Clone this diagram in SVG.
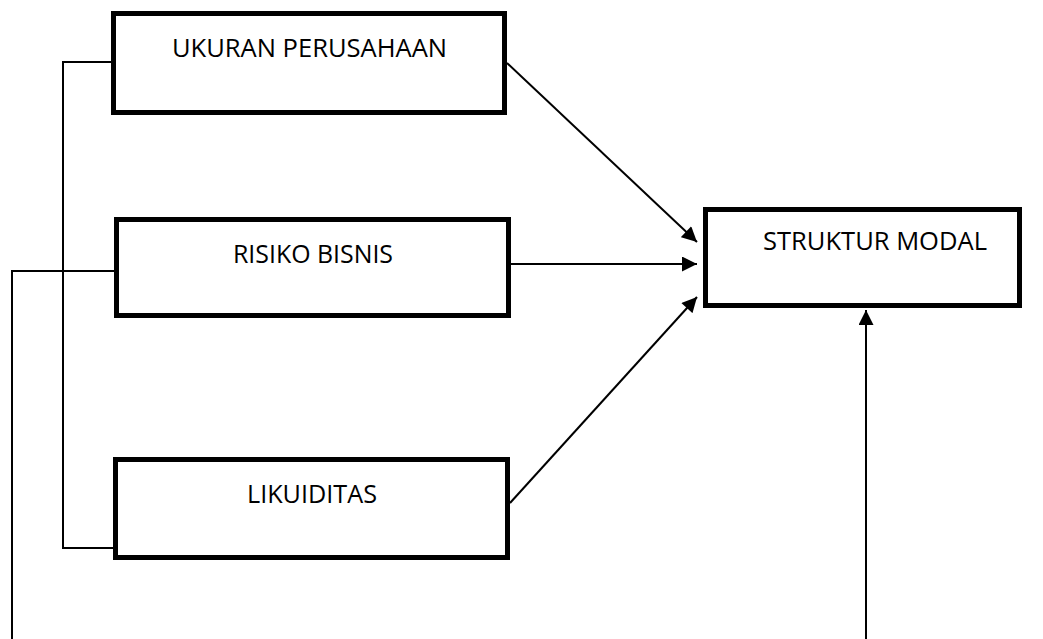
<svg xmlns="http://www.w3.org/2000/svg" width="1043" height="639" viewBox="0 0 1043 639">
<style>
.box{fill:#fff;stroke:#000;stroke-width:5}
.lbl{font-family:"Open Sans","Liberation Sans",sans-serif;font-size:25px;fill:#000;text-anchor:middle}
.ln{fill:none;stroke:#000;stroke-width:2}
.ar{fill:none;stroke:#000;stroke-width:2;marker-end:url(#ah)}
</style>
<defs>
<marker id="ah" viewBox="0 0 10 10" refX="10" refY="5" markerUnits="userSpaceOnUse" markerWidth="16" markerHeight="15" orient="auto">
<path d="M0,0 L10,5 L0,10 z" fill="#000"/>
</marker>
</defs>
<g id="connectors">
<polyline class="ln" points="113,62 63,62 63,548 113,548"/>
<polyline class="ln" points="114,271 12,271 12,639"/>
<line class="ar" x1="507" y1="63" x2="697" y2="242"/>
<line class="ar" x1="511" y1="264" x2="697" y2="264"/>
<line class="ar" x1="510" y1="503" x2="697" y2="297"/>
<line class="ar" x1="866" y1="639" x2="866" y2="310"/>
</g>
<g id="ukuran">
<rect class="box" x="113.5" y="13.5" width="391" height="99"/>
<text class="lbl" x="309.5" y="57" textLength="275" lengthAdjust="spacingAndGlyphs">UKURAN PERUSAHAAN</text>
</g>
<g id="risiko">
<rect class="box" x="116.5" y="219.5" width="392" height="96"/>
<text class="lbl" x="313" y="263" textLength="160" lengthAdjust="spacingAndGlyphs">RISIKO BISNIS</text>
</g>
<g id="likuiditas">
<rect class="box" x="115.5" y="459.5" width="392" height="98"/>
<text class="lbl" x="312" y="503" textLength="130" lengthAdjust="spacingAndGlyphs">LIKUIDITAS</text>
</g>
<g id="struktur">
<rect class="box" x="705.5" y="209.5" width="314" height="96"/>
<text class="lbl" x="875" y="250" textLength="224" lengthAdjust="spacingAndGlyphs">STRUKTUR MODAL</text>
</g>
</svg>
